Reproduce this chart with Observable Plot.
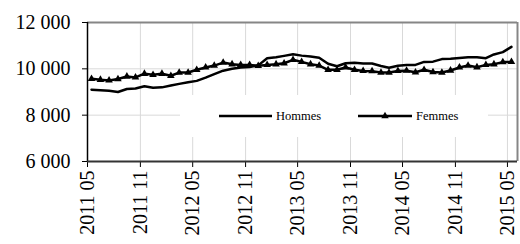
<!DOCTYPE html>
<html><head><meta charset="utf-8">
<script src="https://cdn.jsdelivr.net/npm/d3@7"></script>
<script src="https://cdn.jsdelivr.net/npm/@observablehq/plot@0.6"></script>
<style>
body{margin:0;background:#fff}
#chart{width:520px;height:244px}
#chart svg, #chart svg text{font-family:'Liberation Serif','Times New Roman',serif !important;}
</style>
</head><body><div id="chart"></div>
<script>
// Monthly values, 2011 05 .. 2015 05 (49 months)
const seriesNames = ["Hommes", "Femmes"];
const hommes = [9100,9080,9050,9000,9130,9150,9250,9180,9200,9280,
                9350,9420,9480,9620,9770,9920,10000,10060,10080,10150,
                10460,10500,10560,10630,10570,10530,10480,10220,10110,10240,
                10260,10230,10230,10120,10050,10130,10170,10170,10300,10310,
                10420,10440,10470,10500,10500,10460,10620,10720,10950];
const femmes = [9570,9530,9500,9560,9670,9630,9790,9740,9790,9700,
                9840,9840,9960,10060,10140,10270,10200,10170,10170,10130,
                10170,10200,10240,10390,10300,10200,10140,9960,9960,10060,
                9960,9910,9900,9840,9840,9910,9920,9850,9960,9860,
                9840,9930,10060,10140,10070,10170,10200,10290,10300];
const yTicks = [6000, 8000, 10000, 12000];
const xTickLabels = ["2011 05","2011 11","2012 05","2012 11","2013 05","2013 11","2014 05","2014 11","2015 05"];

const firstMonth = new Date(Date.UTC(2011, 4, 1));
const months = d3.utcMonth.range(firstMonth, new Date(Date.UTC(2015, 5, 1)));
const rows = months.map((m, i) => ({date: d3.utcDay.offset(m, 14), hommes: hommes[i], femmes: femmes[i]}));
const xTicks = months.filter((d, i) => i % 6 === 0);
const xEnd = new Date(Date.UTC(2015, 5, 5));
const fmtY = v => d3.format(",")(v).replace(/,/g, " ");
const fmtX = d => xTickLabels[xTicks.findIndex(t => +t === +d)];
const serif = "Liberation Serif, Times New Roman, serif";

const plot = Plot.plot({
  width: 520, height: 244,
  marginLeft: 87, marginRight: 3, marginTop: 22, marginBottom: 83,
  style: {fontFamily: serif, fontSize: "20px", color: "#000", background: "#fff", overflow: "visible"},
  x: {type: "utc", domain: [firstMonth, xEnd]},
  y: {domain: [6000, 12000]},
  marks: [
    Plot.gridX(xTicks, {stroke: "#d9d9d9", strokeOpacity: 1}),
    Plot.gridY([8000, 10000], {stroke: "#d9d9d9", strokeOpacity: 1}),
    Plot.ruleY([12000], {stroke: "#868686", strokeWidth: 2}),
    Plot.ruleX([xEnd], {stroke: "#868686", strokeWidth: 2}),
    Plot.axisX({ticks: xTicks, tickFormat: fmtX, tickRotate: -90, tickSize: 6, tickPadding: 3, stroke: "#000", fill: "#000"}),
    Plot.axisY({ticks: yTicks, tickFormat: fmtY, tickSize: 5, tickPadding: 12, stroke: "#000", fill: "#000"}),
    Plot.ruleX([firstMonth], {stroke: "#000", strokeWidth: 1.5}),
    Plot.ruleY([6000], {stroke: "#333", strokeWidth: 2}),
    Plot.line(rows, {x: "date", y: "hommes", stroke: "#000", strokeWidth: 2.5}),
    Plot.line(rows, {x: "date", y: "femmes", stroke: "#000", strokeWidth: 2.5}),
    Plot.dot(rows, {x: "date", y: "femmes", symbol: "triangle", r: 2.8, fill: "#000", stroke: "none"})
  ]
});
document.getElementById("chart").appendChild(plot);

// Legend drawn inside the plot area
const svg = d3.select(plot);
const lg = svg.append("g").attr("font-size", 12.5).attr("text-anchor", "start");
lg.append("rect").attr("x", 180).attr("y", 95).attr("width", 308).attr("height", 42).attr("fill", "#fff");
const entries = [{name: seriesNames[0], x0: 219, x1: 272, tri: false}, {name: seriesNames[1], x0: 358, x1: 412, tri: true}];
for (const e of entries) {
  lg.append("line").attr("x1", e.x0).attr("x2", e.x1).attr("y1", 116).attr("y2", 116).attr("stroke", "#000").attr("stroke-width", 2.5);
  if (e.tri) lg.append("path").attr("d", d3.symbol(d3.symbolTriangle, 24)()).attr("transform", `translate(${(e.x0 + e.x1) / 2},116)`).attr("fill", "#000");
  lg.append("text").attr("x", e.x1 + 4).attr("y", 116).attr("dy", "0.35em").attr("text-anchor", "start").attr("font-size", 12.5).attr("fill", "#000").text(e.name);
}
</script>
</body></html>
